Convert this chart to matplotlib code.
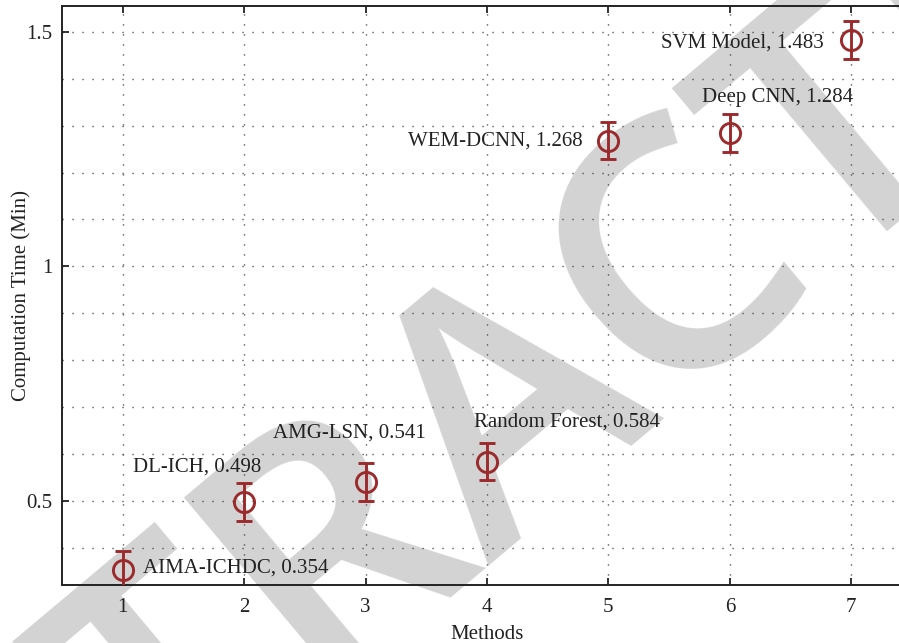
import numpy as np
import matplotlib.pyplot as plt

plt.rcParams['font.family'] = ['Liberation Serif', 'DejaVu Serif']

# computation time of each method (minutes)
methods = ['AIMA-ICHDC', 'DL-ICH', 'AMG-LSN', 'Random Forest',
           'WEM-DCNN', 'Deep CNN', 'SVM Model']
method_idx = [1, 2, 3, 4, 5, 6, 7]
comp_time = [0.354, 0.498, 0.541, 0.584, 1.268, 1.284, 1.483]
time_err = [0.04, 0.04, 0.04, 0.04, 0.04, 0.04, 0.04]

# where each value label sits relative to its marker (pixels) and its alignment
lab_offset = [(20, 1), (-47, 35), (-16, 49), (80, 40), (-26, 0), (48, 36), (-28, -3)]
lab_ha = ['left', 'center', 'center', 'center', 'right', 'center', 'right']

red = '#9b2a2c'

fig = plt.figure(figsize=(8.99, 6.43), dpi=100)
ax = fig.add_axes([62/899, 58/643, 850/899, 579/643])
ax.set_facecolor('none')

ax.errorbar(method_idx, comp_time, yerr=time_err, fmt='o', color=red,
            mfc='none', mec=red, ms=14.5, mew=2.1, elinewidth=2.1,
            capsize=6, capthick=2.1, zorder=4, clip_on=True)

for i in range(len(methods)):
    ax.annotate('%s, %.3f' % (methods[i], comp_time[i]),
                xy=(method_idx[i], comp_time[i]),
                xytext=lab_offset[i], textcoords='offset pixels',
                ha=lab_ha[i], va='center', fontsize=15, color='#222222',
                zorder=5)

ax.set_xlim(0.5, 7.5)
ax.set_ylim(0.321, 1.555)
ax.set_xticks(method_idx)
ax.set_yticks([0.5, 1.0, 1.5])
ax.set_yticklabels(['0.5', '1', '1.5'])
ax.set_yticks(np.arange(0.4, 1.55, 0.1), minor=True)

grid_style = dict(color='#333333', linestyle=(0, (0.8, 6.4)), linewidth=1)
ax.grid(True, which='major', **grid_style)
ax.grid(True, which='minor', axis='y', **grid_style)
ax.tick_params(which='minor', length=0)
ax.tick_params(which='major', direction='in', length=5, width=1.3,
               top=True, right=True, labelsize=15, pad=7, colors='#222222')
ax.tick_params(axis='x', pad=9)

for sp in ax.spines.values():
    sp.set_linewidth(1.4)
    sp.set_color('#222222')

ax.set_xlabel('Methods', fontsize=15, labelpad=6, color='#222222')
ax.set_ylabel('Computation Time (Min)', fontsize=15, color='#222222')
ax.yaxis.set_label_coords(-0.036, 0.5)

# retraction stamp behind the plot
fig.text(520/899, 1 - 394/643, 'RETRACTED', rotation=40, rotation_mode='anchor',
         ha='center', va='center', fontsize=250, fontweight='semibold',
         color='#d3d3d3', family='Open Sans', zorder=-1)

fig.savefig('out.png', dpi=100)
